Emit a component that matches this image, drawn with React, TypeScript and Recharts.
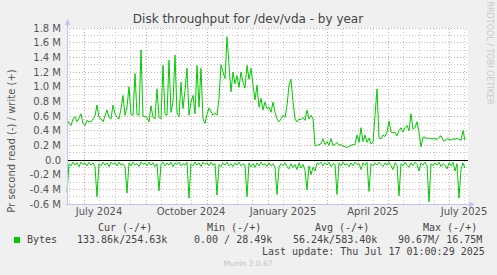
import React from "react"
import { LineChart, Line, XAxis, YAxis, CartesianGrid, ReferenceLine } from "recharts"

// day 0 of the x axis = 14 Jun 2024, one day per pixel
const START = Date.UTC(2024, 5, 14)
const dayOf = (y: number, m: number, d: number) =>
	Math.round((Date.UTC(y, m, d) - START) / 86400000)

// bytes/s in M, one value every 2 days
const writeM = [
	0.55, 0.5, 0.47, 0.56, 0.59, 0.52, 0.57, 0.63, 0.5, 0.47,
	0.54, 0.52, 0.52, 0.56, 0.6, 0.75, 0.58, 0.56, 0.52, 0.6,
	0.68, 0.58, 0.56, 0.75, 0.63, 0.58, 0.56, 0.7, 0.88, 0.61,
	0.72, 1.0, 0.62, 0.61, 1.18, 0.62, 0.61, 1.5, 0.6, 0.59,
	0.58, 0.52, 0.74, 0.58, 0.56, 0.97, 0.58, 0.56, 1.29, 0.62,
	0.61, 1.36, 0.65, 0.79, 1.43, 0.65, 0.59, 1.06, 0.7, 0.95,
	1.25, 0.61, 0.79, 0.88, 0.63, 1.29, 0.72, 1.25, 0.56, 0.5,
	0.62, 0.71, 0.66, 0.61, 0.64, 0.61, 0.84, 1.3, 1.2, 1.11,
	1.68, 1.29, 0.93, 1.2, 1.04, 1.15, 0.99, 1.2, 1.06, 0.98,
	1.29, 1.1, 1.25, 1.02, 0.82, 1.02, 0.72, 0.84, 0.68, 0.79,
	0.7, 0.72, 0.65, 0.79, 0.65, 0.56, 0.52, 0.56, 0.61, 0.58,
	0.74, 1.02, 1.1, 0.8, 0.56, 0.52, 0.56, 0.55, 0.58, 0.54,
	0.68, 0.56, 0.61, 0.56, 0.2, 0.2, 0.21, 0.22, 0.29, 0.21,
	0.25, 0.2, 0.29, 0.2, 0.21, 0.24, 0.2, 0.21, 0.19, 0.18,
	0.17, 0.19, 0.2, 0.21, 0.21, 0.34, 0.24, 0.44, 0.25, 0.34,
	0.24, 0.3, 0.22, 0.24, 0.61, 0.97, 0.3, 0.29, 0.34, 0.32,
	0.38, 0.53, 0.38, 0.37, 0.38, 0.33, 0.4, 0.44, 0.38, 0.44,
	0.47, 0.4, 0.63, 0.42, 0.44, 0.52, 0.38, 0.18, 0.31, 0.31,
	0.29, 0.3, 0.29, 0.29, 0.29, 0.28, 0.31, 0.33, 0.27, 0.26,
	0.29, 0.28, 0.27, 0.29, 0.28, 0.3, 0.28, 0.27, 0.4, 0.27,
]

const readM = [
	-0.44, -0.05, -0.08, -0.03, -0.07, -0.04, -0.09, -0.03, -0.06, -0.04,
	-0.08, -0.03, -0.07, -0.04, -0.09, -0.5, -0.05, -0.08, -0.03, -0.07,
	-0.04, -0.09, -0.03, -0.06, -0.04, -0.08, -0.03, -0.07, -0.05, -0.09,
	-0.45, -0.04, -0.08, -0.03, -0.07, -0.05, -0.09, -0.03, -0.06, -0.04,
	-0.08, -0.03, -0.07, -0.04, -0.09, -0.05, -0.42, -0.06, -0.03, -0.08,
	-0.04, -0.07, -0.03, -0.09, -0.04, -0.06, -0.03, -0.08, -0.05, -0.07,
	-0.03, -0.52, -0.05, -0.08, -0.03, -0.07, -0.04, -0.09, -0.03, -0.06,
	-0.04, -0.08, -0.03, -0.07, -0.05, -0.48, -0.06, -0.09, -0.04, -0.07,
	-0.03, -0.08, -0.05, -0.09, -0.04, -0.07, -0.03, -0.08, -0.05, -0.07,
	-0.5, -0.04, -0.09, -0.05, -0.1, -0.04, -0.08, -0.03, -0.07, -0.05,
	-0.09, -0.04, -0.08, -0.05, -0.1, -0.47, -0.1, -0.05, -0.08, -0.04,
	-0.09, -0.12, -0.05, -0.1, -0.06, -0.13, -0.04, -0.11, -0.06, -0.14,
	-0.41, -0.08, -0.2, -0.1, -0.15, -0.04, -0.06, -0.03, -0.08, -0.04,
	-0.07, -0.03, -0.09, -0.05, -0.06, -0.47, -0.04, -0.08, -0.03, -0.07,
	-0.05, -0.09, -0.04, -0.08, -0.03, -0.06, -0.05, -0.13, -0.04, -0.07,
	-0.03, -0.43, -0.05, -0.08, -0.04, -0.07, -0.03, -0.06, -0.09, -0.04,
	-0.07, -0.03, -0.08, -0.13, -0.04, -0.06, -0.49, -0.05, -0.08, -0.03,
	-0.07, -0.1, -0.04, -0.08, -0.03, -0.06, -0.15, -0.04, -0.07, -0.03,
	-0.08, -0.57, -0.05, -0.08, -0.04, -0.07, -0.03, -0.09, -0.05, -0.07,
	-0.12, -0.04, -0.08, -0.03, -0.15, -0.05, -0.52, -0.13, -0.04, -0.11,
]

const yTicks = [-0.6, -0.4, -0.2, 0, 0.2, 0.4, 0.6, 0.8, 1.0, 1.2, 1.4, 1.6, 1.8]
const yMinor = [-0.5, -0.3, -0.1, 0.1, 0.3, 0.5, 0.7, 0.9, 1.1, 1.3, 1.5, 1.7]

const monthNames = ["January", "February", "March", "April", "May", "June",
	"July", "August", "September", "October", "November", "December"]
// [year, month] of the month labels
const labelMonths = [[2024, 6], [2024, 9], [2025, 0], [2025, 3], [2025, 6]]
// [year, month] of red major grid lines
const majorMonths = [[2024, 6], [2024, 8], [2024, 10], [2025, 0], [2025, 2], [2025, 4], [2025, 6]]

const legendHead = ["Cur (-/+)", "Min (-/+)", "Avg (-/+)", "Max (-/+)"]
const legendVals = ["133.86k/254.63k", "0.00 / 28.49k", "56.24k/583.40k", "90.67M/ 16.75M"]

const DOMAIN = 401
const GREEN = "#00cc00"
const MAJOR = "#e8a0a0"
const MINOR = "#c8c8c8"

const data = writeM.map((w, i) => ({ day: i * 2, write: w, read: readM[i] }))

const labelDays = labelMonths.map(([y, m]) => dayOf(y, m, 16))
const labelText: Record<number, string> = {}
labelMonths.forEach(([y, m], i) => {
	labelText[labelDays[i]] = monthNames[m] + " " + y
})
const majorDays = majorMonths.map(([y, m]) => dayOf(y, m, 1))
const minorDays: number[] = []
for (let k = 0; k < 15; k++) {
	const y = 2024 + Math.floor((5 + k) / 12)
	const m = (5 + k) % 12
	for (const d of [1, 16]) {
		const v = dayOf(y, m, d)
		if (v > 0 && v < DOMAIN && !majorDays.includes(v)) minorDays.push(v)
	}
}

const fmtY = (v: number) => (Math.abs(v) < 1e-9 ? "0.0" : v.toFixed(1) + " M")

const sans = "DejaVu Sans, sans-serif"
const mono = "DejaVu Sans Mono, monospace"

export default function App() {
	return (
		<div style={{ position: "absolute", left: 0, top: 0, width: 497, height: 275, background: "#f0f0f0" }}>
			<LineChart
				width={497}
				height={275}
				data={data}
				margin={{ top: 28, right: 29, bottom: 51, left: 7 }}>
				<CartesianGrid fill="#ffffff" horizontal={false} vertical={false} />
				<XAxis
					dataKey="day"
					type="number"
					domain={[0, DOMAIN]}
					ticks={labelDays}
					tickFormatter={(v: number) => labelText[v] || ""}
					interval={0}
					axisLine={false}
					tickLine={false}
					tickSize={2}
					tickMargin={2}
					tick={{ fontSize: 10, fill: "#555", fontFamily: sans }}
					height={20}
				/>
				<YAxis
					type="number"
					domain={[-0.6, 1.8]}
					ticks={yTicks}
					tickFormatter={fmtY}
					interval={0}
					axisLine={false}
					tickLine={false}
					tickSize={4}
					tickMargin={2}
					width={60}
					tick={{ fontSize: 10, fill: "#555", fontFamily: sans }}
				/>
				{yMinor.map((v) => (
					<ReferenceLine key={"ym" + v} y={v} stroke={MINOR} strokeDasharray="1 2" shapeRendering="crispEdges" />
				))}
				{minorDays.map((d) => (
					<ReferenceLine key={"xm" + d} x={d} stroke={MINOR} strokeDasharray="1 2" shapeRendering="crispEdges" />
				))}
				{yTicks.filter((v) => v !== 0).map((v) => (
					<ReferenceLine key={"yM" + v} y={v} stroke={MAJOR} strokeDasharray="1 2" shapeRendering="crispEdges" />
				))}
				{majorDays.map((d) => (
					<ReferenceLine key={"xM" + d} x={d} stroke={MAJOR} strokeDasharray="1 2" shapeRendering="crispEdges" />
				))}
				<ReferenceLine y={0} stroke="#000" strokeWidth={1} shapeRendering="crispEdges" />
				<Line dataKey="write" stroke={GREEN} strokeWidth={1} dot={false} type="linear" isAnimationActive={false} />
				<Line dataKey="read" stroke={GREEN} strokeWidth={1} dot={false} type="linear" isAnimationActive={false} />
			</LineChart>
			<svg width={497} height={275} style={{ position: "absolute", left: 0, top: 0, pointerEvents: "none" }}>
				{/* axes with arrows */}
				<line x1={67.5} y1={204} x2={67.5} y2={25} stroke="#c4c4f0" />
				<polygon points="64.5,25 70.5,25 67.5,19" fill="#c4c4f0" />
				<line x1={66} y1={204.5} x2={469} y2={204.5} stroke="#c4c4f0" />
				<polygon points="469,201.5 469,207.5 475,204.5" fill="#c4c4f0" />
				<text x={248} y={23} textAnchor="middle" fontFamily={sans} fontSize={12} fill="#444">
					Disk throughput for /dev/vda - by year
				</text>
				<text
					transform="translate(15,141) rotate(-90)"
					textAnchor="middle"
					fontFamily={sans}
					fontSize={10}
					fill="#555">
					Pr second read (-) / write (+)
				</text>
				<text
					transform="translate(487,53) rotate(90)"
					textAnchor="middle"
					fontFamily={sans}
					fontSize={8}
					fill="#c8c8c8">
					RRDTOOL / TOBI OETIKER
				</text>
				{legendHead.map((t, i) => (
					<text key={t} x={[98, 207, 315, 423][i]} y={231} fontFamily={mono} fontSize={10} fill="#444">
						{t}
					</text>
				))}
				<rect x={14} y={237} width={6} height={6} fill={GREEN} />
				<text x={27} y={243} fontFamily={mono} fontSize={10} fill="#444">Bytes</text>
				{legendVals.map((t, i) => (
					<text key={t} x={[77, 194, 293, 398][i]} y={243} fontFamily={mono} fontSize={10} fill="#444" style={{ whiteSpace: "pre" }}>
						{t}
					</text>
				))}
				<text x={262} y={255} fontFamily={mono} fontSize={10} fill="#444">
					Last update: Thu Jul 17 01:00:29 2025
				</text>
				<text x={248} y={266} textAnchor="middle" fontFamily={sans} fontSize={7.5} fill="#c4c4c4">
					Munin 2.0.67
				</text>
			</svg>
		</div>
	)
}
